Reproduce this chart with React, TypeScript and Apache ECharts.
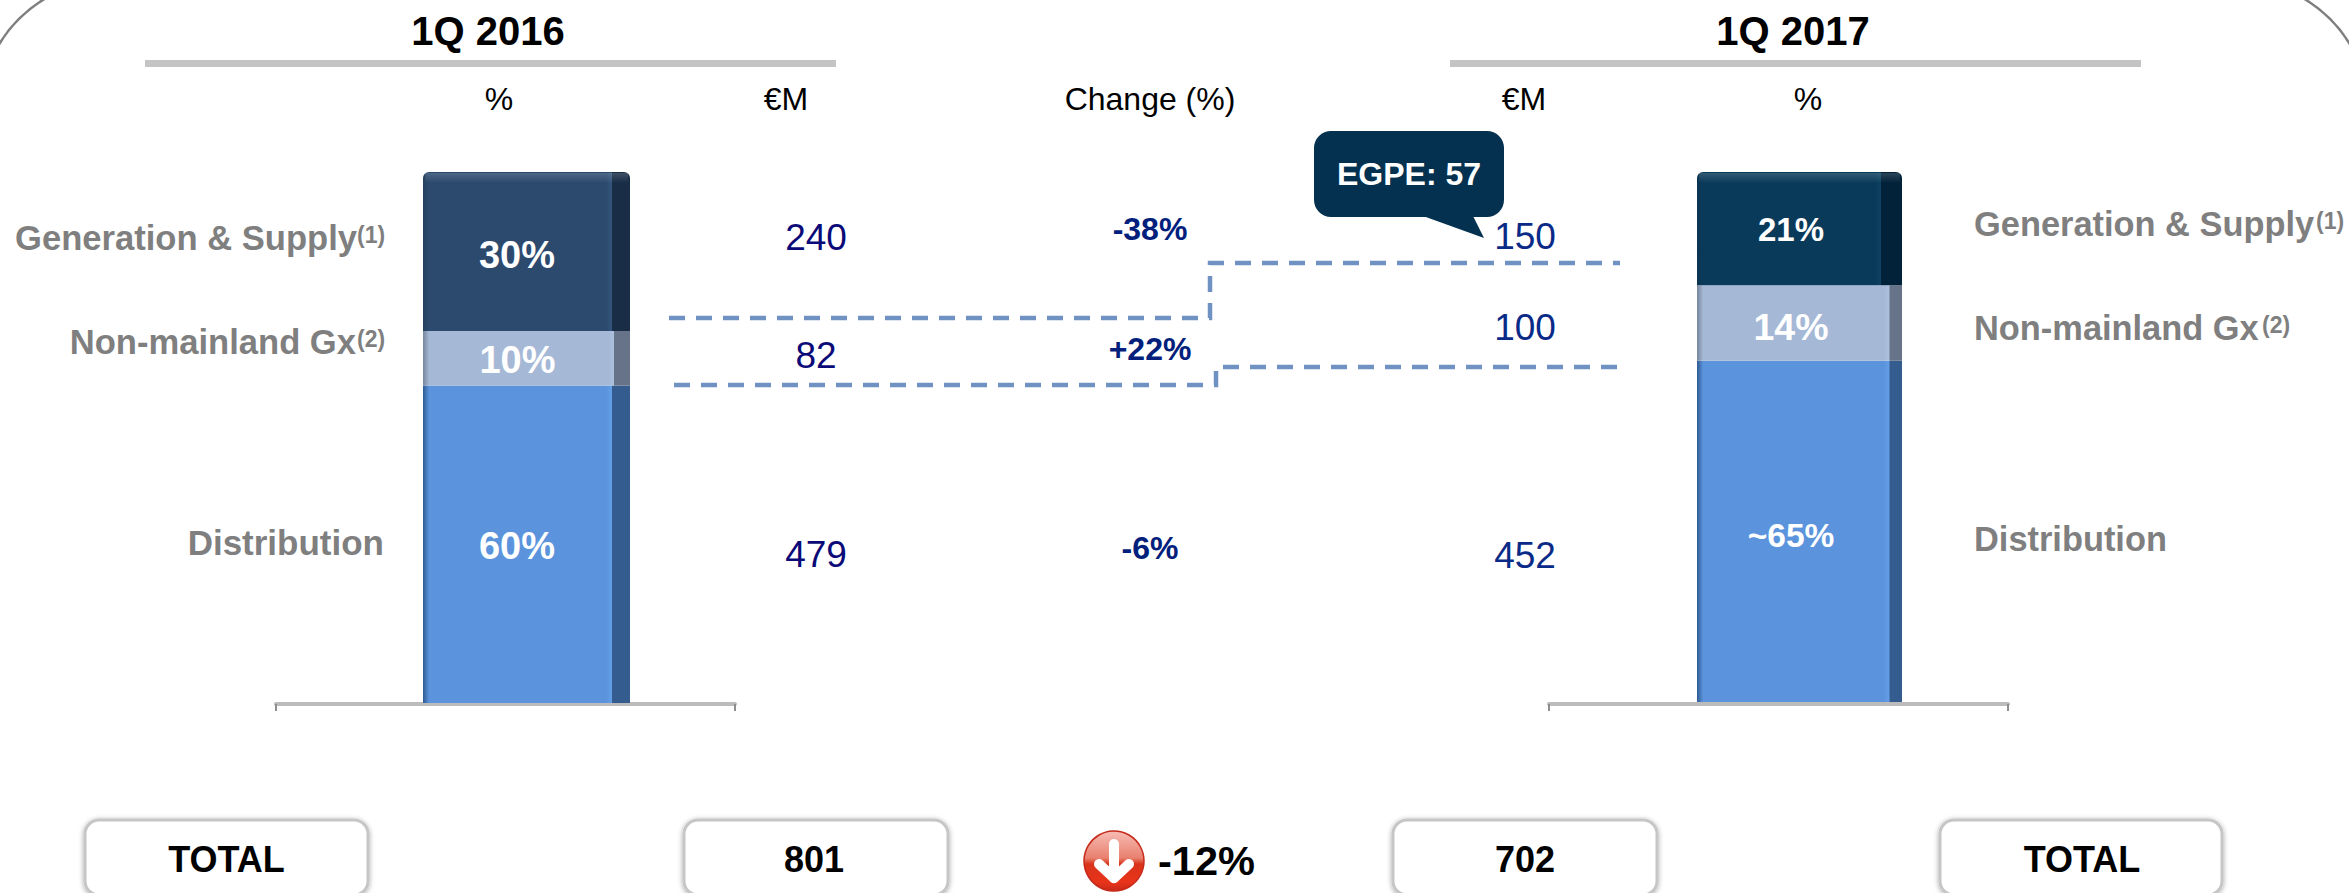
import React, { useEffect, useRef } from "react";
import * as echarts from "echarts";

const periods = ["1Q 2016", "1Q 2017"];
const segments = ["Distribution", "Non-mainland Gx", "Generation & Supply"];
const footnotes = ["", "(2)", "(1)"];
const euro2016 = [479, 82, 240];
const euro2017 = [452, 100, 150];
const pct2016 = ["60%", "10%", "30%"];
const pct2017 = ["~65%", "14%", "21%"];
const changes = ["-6%", "+22%", "-38%"];
const totals = [801, 702];
const totalChange = "-12%";
const callout = "EGPE: 57";

const FONT = '"Liberation Sans", Arial, sans-serif';

function txt(text: string, x: number, base: number, size: number, fill: string, bold = false, align = "center") {
  return {
    type: "text",
    silent: true,
    z: 20,
    x,
    y: base - size * 0.3465,
    style: {
      text,
      fontFamily: FONT,
      fontSize: size,
      fontWeight: bold ? "bold" : "normal",
      fill,
      textAlign: align,
      textVerticalAlign: "middle",
    },
  };
}

function vGrad(stops: [number, string][]) {
  return { type: "linear", x: 0, y: 0, x2: 0, y2: 1, colorStops: stops.map(([offset, color]) => ({ offset, color })) };
}

function barFill(main: string, light: string, side: string, edge: string, sideStart: number) {
  return {
    type: "linear",
    x: 0,
    y: 0,
    x2: 1,
    y2: 0,
    colorStops: [
      { offset: 0, color: edge },
      { offset: 0.03, color: main },
      { offset: sideStart - 0.03, color: main },
      { offset: sideStart - 0.002, color: light },
      { offset: sideStart, color: side },
      { offset: 1, color: side },
    ],
  };
}

const leftStyles = [
  barFill("#5b94dc", "#649ee6", "#355c8e", "#2f5a92", 0.915),
  barFill("#a5b8d6", "#adc0de", "#667388", "#76859c", 0.925),
  barFill("#2c4a6e", "#35557c", "#1a2d47", "#24405f", 0.915),
];
const rightStyles = [
  barFill("#5b94dc", "#649ee6", "#355c8e", "#2f5a92", 0.94),
  barFill("#a5b8d6", "#adc0de", "#667388", "#76859c", 0.94),
  barFill("#0a3a5a", "#0e4263", "#02223a", "#0a3450", 0.9),
];

function stackSeries(values: number[], labels: string[], styles: any[], axis: number, offs: number[][], sizes: number[]) {
  return values.map((v, i) => ({
    type: "bar",
    name: segments[i],
    stack: "s" + axis,
    xAxisIndex: axis,
    yAxisIndex: axis,
    barWidth: "100%",
    data: [v],
    itemStyle: { color: styles[i], borderRadius: i === 2 ? [6, 6, 0, 0] : 0 },
    label: {
      show: true,
      position: "inside",
      formatter: labels[i],
      offset: offs[i],
      color: "#ffffff",
      fontFamily: FONT,
      fontWeight: "bold",
      fontSize: sizes[i],
    },
  }));
}

function axisGrid(left: number, width: number, top: number, height: number) {
  return { left, width, top, height, containLabel: false, show: false };
}

function bandAxis(gridIndex: number, visible: boolean) {
  return {
    type: "category",
    gridIndex,
    data: [""],
    axisLine: { show: visible, lineStyle: { color: "#bcbcbc", width: 4 } },
    axisTick: { show: visible, length: 7, lineStyle: { color: "#8e8e8e", width: 2 } },
    axisLabel: { show: false },
    splitLine: { show: false },
  };
}

function hiddenValue(gridIndex: number, max: number) {
  return { type: "value", gridIndex, min: 0, max, show: false, splitLine: { show: false } };
}

const DASH = { stroke: "#7092c2", lineWidth: 4.5, lineDash: [16, 11], fill: "none" };

function totalBox(x: number, w: number) {
  return {
    type: "rect",
    silent: true,
    z: 5,
    shape: { x, y: 820, width: w, height: 75, r: 14 },
    style: { fill: "#ffffff", stroke: "#c6c6c6", lineWidth: 3, shadowColor: "rgba(0,0,0,0.35)", shadowBlur: 5, shadowOffsetX: 0, shadowOffsetY: 1 },
  };
}

function App() {
  const ref = useRef<HTMLDivElement>(null);
  useEffect(() => {
    document.body.style.margin = "0";
    document.body.style.background = "#ffffff";
    const chart = echarts.init(ref.current!, undefined, { renderer: "svg" });
    const GREY = "#7f7f7f";
    const NAVY = "#0a0a78";
    const BLUE = "#0a2a88";
    const CH = "#00207c";
    chart.setOption({
      animation: false,
      backgroundColor: "#ffffff",
      grid: [axisGrid(276, 459, 172, 532), axisGrid(423, 207, 172, 531), axisGrid(1549, 459, 172, 532), axisGrid(1697, 205, 172, 530)],
      xAxis: [bandAxis(0, true), bandAxis(1, false), bandAxis(2, true), bandAxis(3, false)],
      yAxis: [
        hiddenValue(0, totals[0]),
        hiddenValue(1, totals[0]),
        hiddenValue(2, totals[1]),
        hiddenValue(3, totals[1]),
      ],
      series: [
        { type: "bar", xAxisIndex: 0, yAxisIndex: 0, data: [] },
        { type: "bar", xAxisIndex: 2, yAxisIndex: 2, data: [] },
        ...stackSeries(euro2016, pct2016, leftStyles, 1, [[-9.5, 2], [-9, 2], [-9.5, 3]], [38, 38, 38]),
        ...stackSeries(euro2017, pct2017, rightStyles, 3, [[-8.5, 4], [-8.5, 4], [-8.5, 1]], [33.5, 37.5, 33]),
      ],
      graphic: {
        elements: [
          {
            type: "rect",
            silent: true,
            shape: { x: -20, y: -20, width: 2389, height: 1000, r: 133 },
            style: { fill: "none", stroke: "#7f7f7f", lineWidth: 2.5 },
          },
          // header rules
          { type: "rect", silent: true, shape: { x: 145, y: 60, width: 691, height: 7 }, style: { fill: "#c4c4c4" } },
          { type: "rect", silent: true, shape: { x: 1450, y: 60, width: 691, height: 7 }, style: { fill: "#c4c4c4" } },
          txt(periods[0], 488, 45, 40, "#000000", true),
          txt(periods[1], 1793, 45, 40, "#000000", true),
          txt("%", 499, 110, 32, "#000000"),
          txt("€M", 786, 110, 32, "#000000"),
          txt("Change (%)", 1150, 110, 32, "#000000"),
          txt("€M", 1524, 110, 32, "#000000"),
          txt("%", 1808, 110, 32, "#000000"),

          // top highlight of the bars
          { type: "rect", silent: true, z: 10, shape: { x: 425, y: 173, width: 203, height: 10 }, style: { fill: vGrad([[0, "rgba(255,255,255,0.16)"], [1, "rgba(255,255,255,0)"]]) } },
          { type: "rect", silent: true, z: 10, shape: { x: 1699, y: 173, width: 201, height: 10 }, style: { fill: vGrad([[0, "rgba(255,255,255,0.16)"], [1, "rgba(255,255,255,0)"]]) } },

          // left labels
          txt(segments[2], 357, 250, 34.6, GREY, true, "right"),
          txt(footnotes[2], 357, 243, 23, GREY, true, "left"),
          txt(segments[1], 356, 354, 34.6, GREY, true, "right"),
          txt(footnotes[1], 357, 347, 23, GREY, true, "left"),
          txt(segments[0], 384, 555, 35, GREY, true, "right"),
          // right labels
          txt(segments[2], 1974, 236, 34.4, GREY, true, "left"),
          txt(footnotes[2], 2316, 229, 23, GREY, true, "left"),
          txt(segments[1], 1974, 340, 34.4, GREY, true, "left"),
          txt(footnotes[1], 2262, 333, 23, GREY, true, "left"),
          txt(segments[0], 1974, 551, 34.4, GREY, true, "left"),

          // euro values
          txt(String(euro2016[2]), 816, 250, 37, NAVY),
          txt(String(euro2016[1]), 816, 368, 37, NAVY),
          txt(String(euro2016[0]), 816, 567, 37, NAVY),
          txt(String(euro2017[2]), 1525, 249, 37, BLUE),
          txt(String(euro2017[1]), 1525, 340, 37, BLUE),
          txt(String(euro2017[0]), 1525, 568, 37, BLUE),
          // changes
          txt(changes[2], 1150, 240, 32, CH, true),
          txt(changes[1], 1150, 360, 32, CH, true),
          txt(changes[0], 1150, 559, 32, CH, true),

          // connectors
          { type: "polyline", silent: true, shape: { points: [[669, 318], [1210, 318], [1210, 263], [1620, 263]] }, style: DASH },
          { type: "polyline", silent: true, shape: { points: [[674, 385], [1216, 385], [1216, 367], [1623, 367]] }, style: DASH },

          // callout
          {
            type: "rect",
            silent: true,
            shape: { x: 1314, y: 131, width: 190, height: 86, r: 17 },
            style: { fill: "#03314f" },
          },
          {
            type: "polygon",
            silent: true,
            shape: { points: [[1423, 216], [1484, 238], [1473, 216]] },
            style: { fill: "#03314f" },
          },
          txt(callout, 1409, 185, 32, "#ffffff", true),

          // totals
          totalBox(85, 283),
          totalBox(684, 264),
          totalBox(1393, 264),
          totalBox(1940, 282),
          txt("TOTAL", 226.5, 872, 36, "#000000", true),
          txt(String(totals[0]), 814, 872, 36, "#000000", true),
          txt(String(totals[1]), 1525, 872, 36, "#000000", true),
          txt("TOTAL", 2082, 872, 36, "#000000", true),

          // down-arrow badge
          {
            type: "circle",
            silent: true,
            z: 6,
            shape: { cx: 1114, cy: 861, r: 30 },
            style: {
              fill: vGrad([[0, "#f7bdb5"], [0.45, "#e9806f"], [0.55, "#d9331b"], [0.85, "#e8341a"], [1, "#c9281a"]]),
              stroke: "#c62a1b",
              lineWidth: 1.5,
            },
          },
          {
            type: "line",
            silent: true,
            z: 7,
            shape: { x1: 1114, y1: 844, x2: 1114, y2: 878 },
            style: { stroke: "#ffffff", lineWidth: 10, lineCap: "round" },
          },
          {
            type: "polyline",
            silent: true,
            z: 7,
            shape: { points: [[1099, 864], [1114, 878], [1129, 864]] },
            style: { stroke: "#ffffff", lineWidth: 10, lineCap: "round", lineJoin: "round", fill: "none" },
          },
          txt(totalChange, 1158, 875, 41.5, "#000000", true, "left"),
        ],
      },
    });
    return () => chart.dispose();
  }, []);
  return <div ref={ref} style={{ width: 2349, height: 893, overflow: "hidden" }} />;
}

export default App;
